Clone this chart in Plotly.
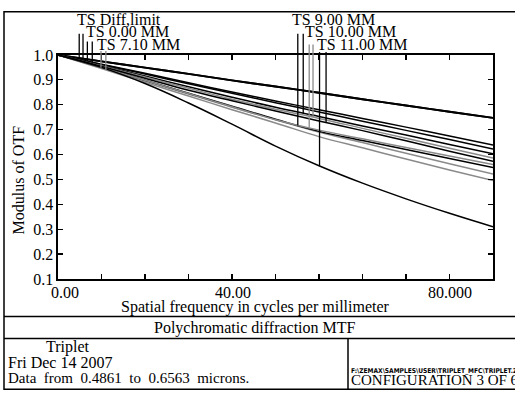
import numpy as np
import plotly.graph_objects as go

W, H = 515, 402

# ---------------- data ----------------
freq = [0, 8, 16, 24, 32, 40, 48, 56, 64, 72, 80]

diff_T = [1.0, 0.974, 0.949, 0.924, 0.898, 0.873, 0.848, 0.822, 0.797, 0.772, 0.747]
diff_S = [1.0, 0.974, 0.949, 0.924, 0.898, 0.873, 0.848, 0.822, 0.797, 0.772, 0.747]
f000_T = [1.0, 0.963, 0.926, 0.888, 0.851, 0.815, 0.780, 0.745, 0.710, 0.674, 0.638]
f000_S = [1.0, 0.962, 0.923, 0.884, 0.846, 0.808, 0.771, 0.734, 0.697, 0.660, 0.622]
f710_T = [1.0, 0.948, 0.895, 0.843, 0.790, 0.740, 0.690, 0.648, 0.605, 0.563, 0.522]
f710_S = [1.0, 0.945, 0.890, 0.835, 0.780, 0.727, 0.672, 0.627, 0.582, 0.538, 0.496]
f900_T = [1.0, 0.950, 0.898, 0.846, 0.794, 0.742, 0.693, 0.656, 0.620, 0.584, 0.548]
f900_S = [1.0, 0.958, 0.915, 0.872, 0.830, 0.790, 0.753, 0.715, 0.678, 0.640, 0.603]
f1000_T = [1.0, 0.950, 0.898, 0.845, 0.792, 0.740, 0.698, 0.663, 0.628, 0.594, 0.560]
f1000_S = [1.0, 0.956, 0.911, 0.866, 0.822, 0.782, 0.745, 0.705, 0.665, 0.625, 0.586]
f1100_T = [1.0, 0.950, 0.885, 0.807, 0.722, 0.634, 0.555, 0.485, 0.422, 0.364, 0.310]
f1100_S = [1.0, 0.954, 0.906, 0.858, 0.816, 0.775, 0.735, 0.696, 0.655, 0.613, 0.573]

field_labels = ["TS Diff,limit", "TS 0.00 MM", "TS 7.10 MM",
                "TS 9.00 MM", "TS 10.00 MM", "TS 11.00 MM"]
# frequencies where the legend pointer lines touch the T and S curves
marker_T = [3.9, 5.4, 7.9, 44.1, 46.2, 48.1]
marker_S = [4.6, 6.3, 8.8, 45.1, 46.9, 49.3]

y_ticks = [0.1, 0.2, 0.3, 0.4, 0.5, 0.6, 0.7, 0.8, 0.9, 1.0]
x_ticks = [0, 8, 16, 24, 32, 40, 48, 56, 64, 72, 80]
x_tick_labels = ["0.00", "40.00", "80.000"]

# ---------------- style ----------------
FONT = "Liberation Serif"
BLACK = "#000000"
GRAY = "#8a8a8a"
field_colors = [BLACK, BLACK, GRAY, BLACK, GRAY, BLACK]
curves_T = [diff_T, f000_T, f710_T, f900_T, f1000_T, f1100_T]
curves_S = [diff_S, f000_S, f710_S, f900_S, f1000_S, f1100_S]


def px(x):
    return x / W


def py(y):
    return 1 - y / H


plot_left, plot_right, plot_top, plot_bot = 58, 493, 49, 283

fig = go.Figure()
for i, lab in enumerate(field_labels):
    for kind, curve in (("T", curves_T[i]), ("S", curves_S[i])):
        fig.add_trace(go.Scatter(
            x=freq, y=curve, mode="lines", name=f"{lab} {kind}",
            line=dict(color=field_colors[i], width=1.9 if i == 0 else 1.5,
                      shape="spline", smoothing=1.2),
            showlegend=False, hoverinfo="skip"))

shapes = []
annotations = []

# legend pointer lines
label_pos = [(75, 12), (84, 25), (95, 38), (290, 12), (303, 25), (315, 38)]
line_tops = [27, 35, 45, 27, 38, 46]
for i in range(len(field_labels)):
    for mx, curve in ((marker_T[i], curves_T[i]), (marker_S[i], curves_S[i])):
        yv = float(np.interp(mx, freq, curve))
        shapes.append(dict(type="line", xref="x", yref="y", x0=mx, x1=mx,
                           y0=yv, y1=1.0, line=dict(color=field_colors[i], width=1.3)))
        shapes.append(dict(type="line", xref="x", yref="paper", x0=mx, x1=mx,
                           y0=py(plot_top), y1=py(line_tops[i]),
                           line=dict(color=field_colors[i], width=1.3)))
    lx, ly = label_pos[i]
    annotations.append(dict(text=field_labels[i], xref="paper", yref="paper",
                            x=px(lx), y=py(ly), xanchor="left", yanchor="middle",
                            showarrow=False, font=dict(family=FONT, size=16, color=BLACK)))

# x tick labels (placed as in the original, offset from ticks)
for txt, cx in zip(x_tick_labels, [65, 233, 450]):
    annotations.append(dict(text=txt, xref="paper", yref="paper", x=px(cx), y=py(297),
                            xanchor="center", yanchor="middle", showarrow=False,
                            font=dict(family=FONT, size=16, color=BLACK)))

annotations += [
    dict(text="Modulus of OTF", xref="paper", yref="paper", x=px(18), y=py(180),
         textangle=-90, xanchor="center", yanchor="middle", showarrow=False,
         font=dict(family=FONT, size=16, color=BLACK)),
    dict(text="Spatial frequency in cycles per millimeter", xref="paper", yref="paper",
         x=px(255), y=py(312), xanchor="center", yanchor="middle", showarrow=False,
         font=dict(family=FONT, size=16, color=BLACK)),
    dict(text="Polychromatic diffraction MTF", xref="paper", yref="paper",
         x=px(255), y=py(334), xanchor="center", yanchor="middle", showarrow=False,
         font=dict(family=FONT, size=16, color=BLACK)),
    dict(text="Triplet", xref="paper", yref="paper", x=px(68), y=py(354),
         xanchor="center", yanchor="middle", showarrow=False,
         font=dict(family=FONT, size=16, color=BLACK)),
    dict(text="Fri Dec 14 2007", xref="paper", yref="paper", x=px(6), y=py(370),
         xanchor="left", yanchor="middle", showarrow=False,
         font=dict(family=FONT, size=16, color=BLACK)),
    dict(text="Data&nbsp;&nbsp;from&nbsp;&nbsp;0.4861&nbsp;&nbsp;to&nbsp;&nbsp;0.6563&nbsp;&nbsp;microns.",
         xref="paper", yref="paper", x=px(6), y=py(386),
         xanchor="left", yanchor="middle", showarrow=False,
         font=dict(family=FONT, size=15, color=BLACK)),
    dict(text="<b>F:\\ZEMAX\\SAMPLES\\USER\\TRIPLET_MFC\\TRIPLET.ZMX</b>",
         xref="paper", yref="paper", x=px(349), y=py(379),
         xanchor="left", yanchor="middle", showarrow=False,
         font=dict(family="DejaVu Sans Condensed, DejaVu Sans", size=6.6, color=BLACK)),
    dict(text="CONFIGURATION 3 OF 6", xref="paper", yref="paper", x=px(349), y=py(388),
         xanchor="left", yanchor="middle", showarrow=False,
         font=dict(family=FONT, size=15, color=BLACK)),
]

# frame / table lines
frame = dict(color=BLACK, width=1.5)
shapes += [
    dict(type="rect", xref="paper", yref="paper", x0=px(4), x1=px(W + 5),
         y0=py(398), y1=py(4), line=frame),
    dict(type="line", xref="paper", yref="paper", x0=px(4), x1=px(W + 5),
         y0=py(322), y1=py(322), line=frame),
    dict(type="line", xref="paper", yref="paper", x0=px(4), x1=px(W + 5),
         y0=py(345), y1=py(345), line=frame),
    dict(type="line", xref="paper", yref="paper", x0=px(348), x1=px(348),
         y0=py(345), y1=py(398), line=frame),
]

axis_common = dict(showgrid=False, zeroline=False, showline=True, linecolor=BLACK,
                   linewidth=1.6, mirror="ticks", ticks="inside", ticklen=5,
                   tickwidth=1.3, tickcolor=BLACK)

fig.update_layout(
    width=W, height=H, margin=dict(l=0, r=0, t=0, b=0),
    paper_bgcolor="white", plot_bgcolor="white",
    xaxis=dict(range=[0, 80], tickvals=x_ticks, showticklabels=False,
               domain=[px(plot_left), px(plot_right)], **axis_common),
    yaxis=dict(range=[0.1, 1.0], tickvals=y_ticks, tickformat=".1f",
               tickfont=dict(family=FONT, size=16, color=BLACK),
               domain=[py(plot_bot), py(plot_top)], **axis_common),
    shapes=shapes, annotations=annotations, showlegend=False,
)

fig.write_html(
    "out.html",
    config={"displayModeBar": False, "staticPlot": True},
    post_script="document.body.style.margin='0';document.body.style.overflow='hidden';",
)
